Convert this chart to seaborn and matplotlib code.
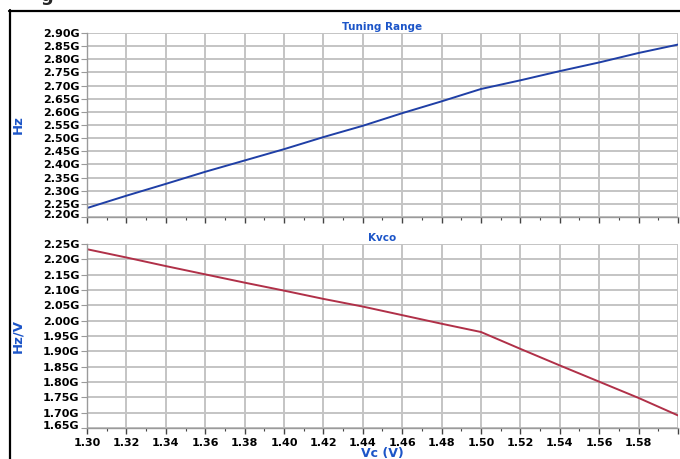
import numpy as np
import pandas as pd
import matplotlib
matplotlib.use("Agg")
import matplotlib.pyplot as plt
import matplotlib.transforms as mtransforms
from matplotlib.lines import Line2D
from matplotlib.ticker import MultipleLocator, FixedLocator, FuncFormatter
import seaborn as sns

# ---- data ----
vc = [1.30, 1.32, 1.34, 1.36, 1.38, 1.40, 1.42, 1.44, 1.46, 1.48,
      1.50, 1.52, 1.54, 1.56, 1.58, 1.60]
tuning_ghz = [2.234, 2.281, 2.326, 2.372, 2.415, 2.458, 2.504, 2.547,
              2.595, 2.640, 2.687, 2.720, 2.755, 2.788, 2.824, 2.856]
kvco_ghz = [2.233, 2.206, 2.178, 2.151, 2.124, 2.098, 2.071, 2.046,
            2.018, 1.990, 1.963, 1.908, 1.854, 1.801, 1.748, 1.691]
x_ticks = [1.30, 1.32, 1.34, 1.36, 1.38, 1.40, 1.42, 1.44, 1.46, 1.48,
           1.50, 1.52, 1.54, 1.56, 1.58, 1.60]
top_yticks = [2.20, 2.25, 2.30, 2.35, 2.40, 2.45, 2.50, 2.55, 2.60,
              2.65, 2.70, 2.75, 2.80, 2.85, 2.90]
bot_yticks = [1.65, 1.70, 1.75, 1.80, 1.85, 1.90, 1.95, 2.00, 2.05,
              2.10, 2.15, 2.20, 2.25]

df = pd.DataFrame({"vc": vc, "tuning": tuning_ghz, "kvco": kvco_ghz})

sns.set_style("white")
plt.rcParams["font.family"] = ["DejaVu Sans"]

W, H = 680, 459
fig = plt.figure(figsize=(W / 100, H / 100), dpi=100)

def px_axes(left, top, right, bottom):
    return fig.add_axes([left / W, 1 - bottom / H, (right - left) / W, (bottom - top) / H])

ax1 = px_axes(87, 33, 678, 217)
ax2 = px_axes(87, 244, 678, 428)

title_blue = "#1c55c8"
grid_c = "#c4c4c4"
spine_c = "#9a9a9a"
tick_c = "#444444"

sns.lineplot(data=df, x="vc", y="tuning", ax=ax1, color="#1f3fa6", linewidth=1.4)
sns.lineplot(data=df, x="vc", y="kvco", ax=ax2, color="#b03048", linewidth=1.4)

gfmt = FuncFormatter(lambda v, p: f"{v:.2f}G")
for ax, yt, title, ylab in [(ax1, top_yticks, "Tuning Range", "Hz"),
                            (ax2, bot_yticks, "Kvco", "Hz/V")]:
    ax.set_xlim(1.30, 1.60)
    ax.set_ylim(yt[0], yt[-1])
    ax.xaxis.set_major_locator(FixedLocator(x_ticks))
    ax.xaxis.set_minor_locator(MultipleLocator(0.01))
    ax.yaxis.set_major_locator(FixedLocator(yt))
    ax.yaxis.set_major_formatter(gfmt)
    ax.xaxis.set_major_formatter(FuncFormatter(lambda v, p: "" if v > 1.595 else f"{v:.2f}"))
    ax.grid(True, which="major", color=grid_c, linewidth=1.4)
    ax.set_axisbelow(True)
    for s in ["top", "right"]:
        ax.spines[s].set_visible(False)
    for s in ["left", "bottom"]:
        ax.spines[s].set_color(spine_c)
        ax.spines[s].set_linewidth(1.0)
    ax.tick_params(axis="y", which="major", length=4, width=0.8, color=spine_c,
                   pad=1.5, labelsize=8, labelcolor="black", left=True)
    ax.tick_params(axis="x", which="major", length=4, width=1.0, color=tick_c,
                   pad=3, labelsize=8, labelcolor="black", bottom=True)
    ax.tick_params(axis="x", which="minor", length=2.5, width=0.8, color=tick_c, bottom=True)
    for lab in ax.get_yticklabels() + ax.get_xticklabels():
        lab.set_fontweight("bold")
    ax.set_title(title, color=title_blue, fontsize=7.5, fontweight="bold", pad=2)
    ax.set_ylabel(ylab, color=title_blue, fontsize=9.5, fontweight="bold")
    ax.yaxis.set_label_coords(-0.106, 0.5)
    ax.set_xlabel("")
    # lowest y tick label sits slightly higher in the reference
    low = ax.get_yticklabels()[0]
    low.set_transform(low.get_transform() +
                      mtransforms.ScaledTranslation(0, 3.5 / 100, fig.dpi_scale_trans))

ax1.tick_params(axis="x", which="both", labelbottom=False)
ax2.set_xlabel("Vc (V)", color=title_blue, fontsize=9, fontweight="bold", labelpad=-0.5)

# frame lines of the surrounding panel
fig.add_artist(Line2D([9 / W, 1.0], [1 - 10.5 / H, 1 - 10.5 / H], color="black", linewidth=1.6))
fig.add_artist(Line2D([9.5 / W, 9.5 / W], [0, 1 - 10 / H], color="black", linewidth=1.6))
fig.text(40 / W, 1 - 1 / H, "g", fontsize=13, fontweight="bold", va="baseline", ha="left")

fig.savefig("out.png", dpi=100)
